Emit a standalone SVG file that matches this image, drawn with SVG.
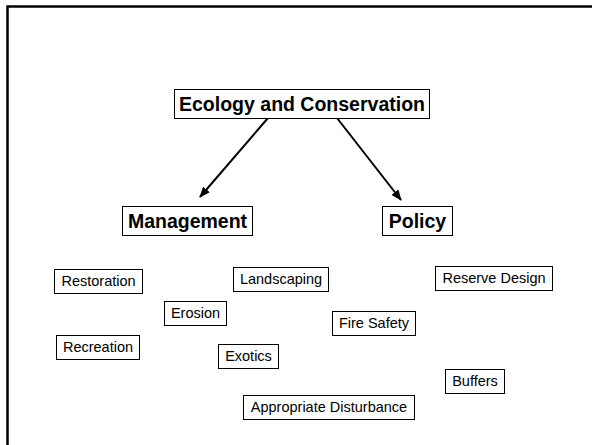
<svg xmlns="http://www.w3.org/2000/svg" width="592" height="445" viewBox="0 0 592 445">
<style>
.box{fill:#fff;stroke:#000;stroke-width:1}
.big{font-family:"Liberation Sans",Arial,sans-serif;font-weight:bold;font-size:19.5px;text-anchor:middle;fill:#000}
.sm{font-family:"Liberation Sans",Arial,sans-serif;font-size:14.5px;text-anchor:middle;fill:#000}
.conn{stroke:#000;stroke-width:2;fill:none;marker-end:url(#ah)}
</style>
<defs>
<marker id="ah" viewBox="0 0 10 8" refX="9" refY="4" markerWidth="5.5" markerHeight="4.4" orient="auto" markerUnits="strokeWidth">
<path d="M0,0 L10,4 L0,8 Z" fill="#000"/>
</marker>
</defs>
<rect width="592" height="445" fill="#fff"/>
<path d="M7.5,445 V6.5 H592" fill="none" stroke="#000" stroke-width="2.5"/>
<g id="connectors">
<line class="conn" x1="268" y1="118" x2="200" y2="197"/>
<line class="conn" x1="337" y1="118" x2="401" y2="200"/>
</g>
<g id="ecology"><rect class="box" x="174.5" y="89.5" width="255" height="29"/><text class="big" x="302" y="111">Ecology and Conservation</text></g>
<g id="management"><rect class="box" x="122.5" y="206.5" width="130" height="29"/><text class="big" x="187.5" y="228">Management</text></g>
<g id="policy"><rect class="box" x="382.5" y="206.5" width="70" height="29"/><text class="big" x="417.5" y="228">Policy</text></g>
<g id="restoration"><rect class="box" x="54.5" y="269.5" width="88" height="24"/><text class="sm" x="98.5" y="286">Restoration</text></g>
<g id="landscaping"><rect class="box" x="233.5" y="267.5" width="95" height="24"/><text class="sm" x="281" y="284">Landscaping</text></g>
<g id="reserve-design"><rect class="box" x="435.5" y="266.5" width="117" height="24"/><text class="sm" x="494" y="283">Reserve Design</text></g>
<g id="erosion"><rect class="box" x="164.5" y="301.5" width="62" height="24"/><text class="sm" x="195.5" y="318">Erosion</text></g>
<g id="fire-safety"><rect class="box" x="332.5" y="311.5" width="83" height="24"/><text class="sm" x="374" y="328">Fire Safety</text></g>
<g id="recreation"><rect class="box" x="56.5" y="335.5" width="83" height="24"/><text class="sm" x="98" y="352">Recreation</text></g>
<g id="exotics"><rect class="box" x="218.5" y="344.5" width="60" height="24"/><text class="sm" x="248.5" y="361">Exotics</text></g>
<g id="buffers"><rect class="box" x="445.5" y="369.5" width="59" height="24"/><text class="sm" x="475" y="386">Buffers</text></g>
<g id="appropriate-disturbance"><rect class="box" x="243.5" y="395.5" width="171" height="24"/><text class="sm" x="329" y="412">Appropriate Disturbance</text></g>
</svg>
